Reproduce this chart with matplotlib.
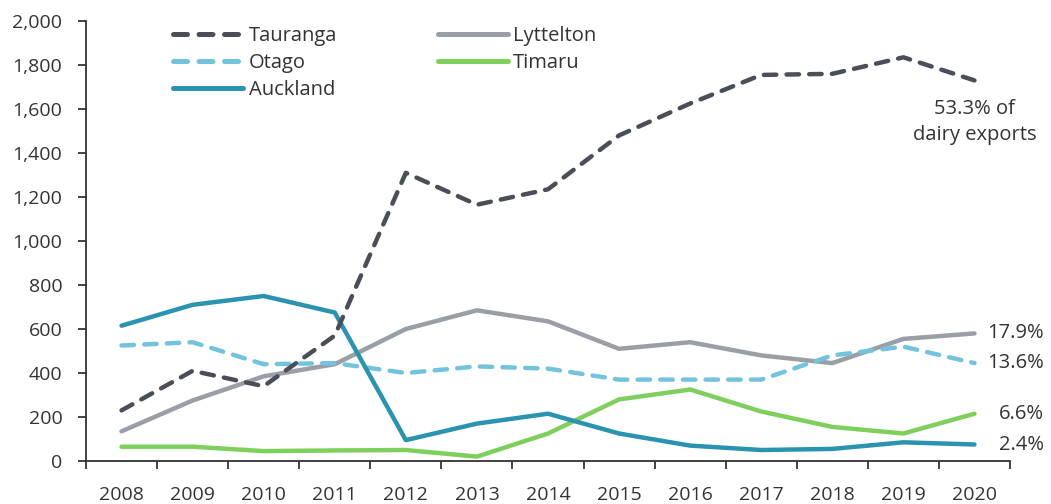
import matplotlib
matplotlib.use("Agg")
import matplotlib.pyplot as plt
from matplotlib.ticker import FuncFormatter, FixedLocator
import numpy as np

plt.rcParams['font.family'] = ['Open Sans', 'DejaVu Sans']

years = ['2008', '2009', '2010', '2011', '2012', '2013', '2014',
         '2015', '2016', '2017', '2018', '2019', '2020']

tauranga = [230, 410, 340, 570, 1310, 1165, 1235, 1480, 1625, 1755, 1760, 1835, 1730]
lyttelton = [135, 275, 385, 440, 600, 685, 635, 510, 540, 480, 445, 555, 580]
otago = [525, 540, 440, 445, 400, 430, 420, 370, 370, 370, 480, 520, 445]
timaru = [65, 65, 45, 48, 50, 20, 125, 280, 325, 225, 155, 125, 215]
auckland = [615, 710, 750, 675, 95, 170, 215, 125, 70, 50, 55, 85, 75]

share_labels = {'Lyttelton': '17.9%', 'Otago': '13.6%', 'Timaru': '6.6%', 'Auckland': '2.4%'}

TEXT = '#333333'
C_TAU = '#4a4f57'
C_LYT = '#9a9ea5'
C_OTA = '#74c3dd'
C_TIM = '#7fcf5c'
C_AKL = '#2a93b0'

FS = 14

fig = plt.figure(figsize=(10.51, 5.04), dpi=100)
ax = fig.add_axes([0.0818, 0.0853, 0.8792, 0.8730])

x = np.arange(len(years))
lw = 3.2
dash = (2.8, 2.3)

l_tim, = ax.plot(x, timaru, color=C_TIM, lw=lw, solid_capstyle='round', label='Timaru')
l_lyt, = ax.plot(x, lyttelton, color=C_LYT, lw=lw, solid_capstyle='round', label='Lyttelton')
l_ota, = ax.plot(x, otago, color=C_OTA, lw=lw, dashes=dash, dash_capstyle='round', label='Otago')
l_akl, = ax.plot(x, auckland, color=C_AKL, lw=lw, solid_capstyle='round', label='Auckland')
l_tau, = ax.plot(x, tauranga, color=C_TAU, lw=lw, dashes=dash, dash_capstyle='round', label='Tauranga')

ax.set_xlim(-0.5, len(years) - 0.5)
ax.set_ylim(0, 2000)
ax.set_yticks(np.arange(0, 2001, 200))
ax.yaxis.set_major_formatter(FuncFormatter(lambda v, p: f'{int(v):,}'))

ax.set_xticks(x)
ax.set_xticklabels(years)
ax.xaxis.set_minor_locator(FixedLocator(np.arange(-0.5, len(years), 1.0)))
ax.tick_params(axis='x', which='major', length=0, pad=18, labelsize=FS, colors=TEXT)
ax.tick_params(axis='x', which='minor', length=6, width=1.3, color=TEXT, direction='out')
ax.tick_params(axis='y', which='major', length=6, width=1.3, color=TEXT, labelsize=FS,
               labelcolor=TEXT, pad=11)

for s in ['top', 'right']:
    ax.spines[s].set_visible(False)
for s in ['left', 'bottom']:
    ax.spines[s].set_color(TEXT)
    ax.spines[s].set_linewidth(1.3)

# end-of-line share labels
last = len(years) - 1
ends = {'Lyttelton': lyttelton[-1], 'Otago': otago[-1], 'Timaru': timaru[-1], 'Auckland': auckland[-1]}
for name, val in ends.items():
    ax.annotate(share_labels[name], xy=(last, val), xytext=(1044, 0),
                textcoords=('figure pixels', 'offset points'), xycoords='data',
                ha='right', va='center', fontsize=FS + 0.5, color=TEXT)
ax.text(last, 1540, '53.3% of\ndairy exports', ha='center', va='center',
        fontsize=FS + 0.5, color=TEXT, linespacing=1.4)

leg = fig.legend(handles=[l_tau, l_ota, l_akl, l_lyt, l_tim], ncol=2, frameon=False,
                 loc='upper left', bbox_to_anchor=(173 / 1051, 1 - 26 / 504),
                 borderpad=0, borderaxespad=0, fontsize=FS + 0.5,
                 handlelength=3.5, handletextpad=0.25, columnspacing=5.0,
                 labelspacing=0.34, labelcolor=TEXT)
for h in leg.legend_handles:
    h.set_linewidth(3.6)

fig.savefig('out.png', dpi=100)
